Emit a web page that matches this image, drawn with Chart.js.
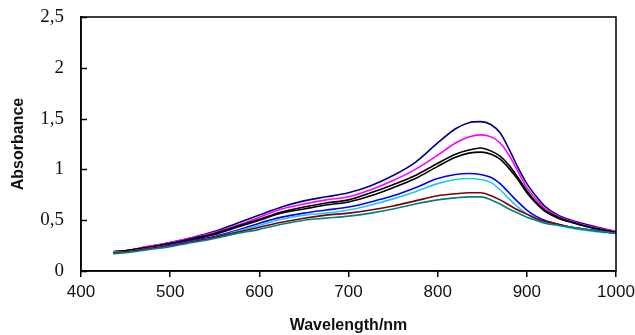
<!DOCTYPE html>
<html>
<head>
<meta charset="utf-8">
<script src="https://cdn.jsdelivr.net/npm/chart.js@4.4.1/dist/chart.umd.min.js"></script>
<style>
  html, body { margin: 0; padding: 0; background: #ffffff; }
  #wrap { width: 635px; height: 335px; position: relative; }
</style>
</head>
<body>
<div id="wrap"><canvas id="c" width="635" height="335"></canvas></div>
<script>
// Wavelength grid (nm)
const wavelengths = [436, 450, 475, 500, 525, 550, 575, 600, 625, 650, 675, 700, 725, 750, 775, 800, 820, 835, 848, 860, 870, 880, 890, 900, 910, 920, 935, 950, 975, 1000];

// Absorbance series
const absNavy    = [0.19, 0.20, 0.24, 0.28, 0.33, 0.39, 0.47, 0.55, 0.63, 0.69, 0.73, 0.77, 0.84, 0.94, 1.07, 1.26, 1.40, 1.46, 1.47, 1.44, 1.36, 1.20, 1.02, 0.86, 0.74, 0.64, 0.55, 0.50, 0.44, 0.39];
const absMagenta = [0.19, 0.20, 0.24, 0.28, 0.33, 0.38, 0.45, 0.53, 0.61, 0.66, 0.70, 0.73, 0.80, 0.89, 1.00, 1.14, 1.26, 1.32, 1.34, 1.32, 1.26, 1.14, 0.98, 0.82, 0.71, 0.62, 0.54, 0.49, 0.43, 0.39];
const absBlack1  = [0.19, 0.20, 0.23, 0.27, 0.32, 0.37, 0.44, 0.51, 0.58, 0.63, 0.67, 0.70, 0.77, 0.85, 0.94, 1.06, 1.15, 1.19, 1.21, 1.18, 1.13, 1.04, 0.92, 0.79, 0.68, 0.60, 0.53, 0.48, 0.42, 0.38];
const absBlack2  = [0.18, 0.20, 0.23, 0.27, 0.31, 0.36, 0.43, 0.50, 0.57, 0.61, 0.65, 0.68, 0.74, 0.82, 0.91, 1.03, 1.12, 1.16, 1.17, 1.15, 1.10, 1.01, 0.90, 0.77, 0.67, 0.59, 0.52, 0.48, 0.42, 0.38];
const absBlue    = [0.18, 0.19, 0.22, 0.26, 0.30, 0.34, 0.40, 0.47, 0.53, 0.57, 0.60, 0.63, 0.68, 0.74, 0.82, 0.91, 0.95, 0.96, 0.95, 0.92, 0.86, 0.77, 0.68, 0.60, 0.54, 0.50, 0.46, 0.43, 0.40, 0.37];
const absCyan    = [0.19, 0.19, 0.22, 0.25, 0.29, 0.33, 0.39, 0.45, 0.51, 0.55, 0.57, 0.60, 0.65, 0.71, 0.78, 0.86, 0.90, 0.91, 0.90, 0.87, 0.80, 0.71, 0.63, 0.56, 0.51, 0.48, 0.45, 0.42, 0.39, 0.37];
const absBrown   = [0.18, 0.19, 0.22, 0.25, 0.29, 0.33, 0.38, 0.43, 0.48, 0.52, 0.55, 0.57, 0.60, 0.64, 0.69, 0.74, 0.76, 0.77, 0.77, 0.74, 0.70, 0.65, 0.60, 0.56, 0.52, 0.49, 0.46, 0.43, 0.40, 0.37];
const absTeal    = [0.17, 0.18, 0.21, 0.24, 0.28, 0.32, 0.37, 0.41, 0.46, 0.50, 0.52, 0.54, 0.57, 0.61, 0.66, 0.70, 0.72, 0.73, 0.73, 0.70, 0.66, 0.61, 0.57, 0.53, 0.50, 0.47, 0.45, 0.43, 0.40, 0.37];

// Axis tick values
const xTickValues = [400, 500, 600, 700, 800, 900, 1000];
const yTickValues = [0, 0.5, 1, 1.5, 2, 2.5];

const seriesList = [
  { data: absTeal,    color: '#008080' },
  { data: absBrown,   color: '#800000' },
  { data: absCyan,    color: '#20c8f0' },
  { data: absBlue,    color: '#0000ff' },
  { data: absBlack2,  color: '#000000' },
  { data: absBlack1,  color: '#000000' },
  { data: absMagenta, color: '#ff00ff' },
  { data: absNavy,    color: '#000080' }
];

const datasets = seriesList.map(s => ({
  data: wavelengths.map((w, i) => ({ x: w, y: s.data[i] })),
  borderColor: s.color,
  backgroundColor: s.color,
  borderWidth: 1.6,
  pointRadius: 0,
  fill: false,
  cubicInterpolationMode: 'monotone'
}));

// Frame + inward y ticks
const framePlugin = {
  id: 'frame',
  afterDraw(chart) {
    const { ctx, chartArea: a, scales } = chart;
    ctx.save();
    ctx.strokeStyle = '#000';
    ctx.lineWidth = 1.5;
    ctx.strokeRect(a.left, a.top, a.right - a.left, a.bottom - a.top);
    const y = scales.y;
    yTickValues.forEach(v => {
      const py = Math.round(y.getPixelForValue(v)) + 0.5;
      ctx.beginPath();
      ctx.moveTo(a.left, py);
      ctx.lineTo(a.left + 6, py);
      ctx.stroke();
    });
    ctx.restore();
  }
};

new Chart(document.getElementById('c'), {
  type: 'line',
  data: { datasets },
  plugins: [framePlugin],
  options: {
    responsive: false,
    animation: false,
    layout: { padding: { left: 0, right: 19, top: 17, bottom: 0 } },
    plugins: { legend: { display: false }, tooltip: { enabled: false } },
    scales: {
      x: {
        type: 'linear',
        min: 400, max: 1000,
        afterBuildTicks: sc => { sc.ticks = xTickValues.map(v => ({ value: v })); },
        afterFit: sc => { sc.height = 64; sc.paddingLeft = 0; sc.paddingRight = 0; },
        grid: { display: true, drawOnChartArea: false, drawTicks: true, tickLength: 6, color: '#000', lineWidth: 1.5 },
        border: { display: true, color: '#000', width: 1.5 },
        ticks: {
          color: '#111',
          padding: 5,
          maxRotation: 0,
          font: { family: "'Liberation Sans', Arial, sans-serif", size: 17 },
          callback: v => String(v)
        },
        title: {
          display: true,
          text: 'Wavelength/nm',
          color: '#111',
          font: { family: "'Liberation Sans', Arial, sans-serif", size: 16, weight: 'bold' },
          padding: { top: 0, bottom: 0 }
        }
      },
      y: {
        type: 'linear',
        min: 0, max: 2.5,
        afterBuildTicks: sc => { sc.ticks = yTickValues.map(v => ({ value: v })); },
        afterFit: sc => { sc.width = 81; sc.paddingTop = 0; sc.paddingBottom = 0; },
        grid: { display: false, drawTicks: false },
        border: { display: true, color: '#000', width: 1.5 },
        ticks: {
          color: '#111',
          padding: 17,
          font: { family: "'Liberation Serif', 'Times New Roman', serif", size: 19 },
          callback: v => String(v).replace('.', ',')
        },
        title: {
          display: true,
          text: 'Absorbance',
          color: '#111',
          font: { family: "'Liberation Sans', Arial, sans-serif", size: 16, weight: 'bold' },
          padding: { top: 9, bottom: 0 }
        }
      }
    }
  }
});
</script>
</body>
</html>
